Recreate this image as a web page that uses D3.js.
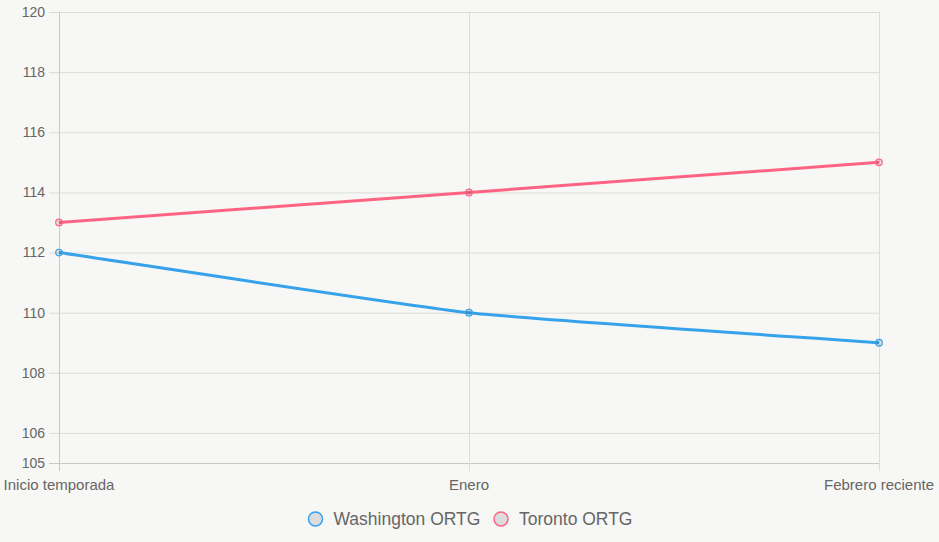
<!DOCTYPE html>
<html><head><meta charset="utf-8">
<script src="https://cdn.jsdelivr.net/npm/d3@7/dist/d3.min.js"></script>
<style>
html,body{margin:0;padding:0;background:#f7f7f5;}
svg{display:block;font-family:"Liberation Sans",Arial,Helvetica,sans-serif;}
</style></head>
<body>
<svg id="c" width="939" height="542"></svg>
<script>
const categories = ["Inicio temporada", "Enero", "Febrero reciente"];
const washington = [112, 110, 109];
const toronto = [113, 114, 115];
const yTicks = [105, 106, 108, 110, 112, 114, 116, 118, 120];
const seriesNames = ["Washington ORTG", "Toronto ORTG"];
const seriesColors = ["#36a2eb", "#ff6384"];

(function () {
const svg = d3.select("#c");
const pL = 59, pR = 879, pT = 12, pB = 463;
const x = d3.scalePoint().domain(categories).range([pL, pR]);
const y = d3.scaleLinear().domain([105, 120]).range([pB, pT]);
const grid = "#dcdcda";

svg.append("g").selectAll("line").data(yTicks).join("line")
  .attr("x1", pL - 10).attr("x2", pR)
  .attr("y1", d => y(d) + 0.5).attr("y2", d => y(d) + 0.5)
  .attr("stroke", d => d === 105 ? "#c8c8c6" : grid).attr("stroke-width", 1);
svg.append("g").selectAll("line").data(categories).join("line")
  .attr("x1", d => x(d) + 0.5).attr("x2", d => x(d) + 0.5)
  .attr("y1", pT).attr("y2", pB + 8)
  .attr("stroke", (d, i) => i === 0 ? "#c8c8c6" : grid).attr("stroke-width", 1);

svg.append("g").selectAll("text").data(yTicks).join("text")
  .attr("x", pL - 14).attr("y", d => y(d)).attr("dy", "0.35em")
  .attr("text-anchor", "end").attr("font-size", 14).attr("fill", "#666")
  .text(d => d);
svg.append("g").selectAll("text").data(categories).join("text")
  .attr("x", d => x(d)).attr("y", pB + 27)
  .attr("text-anchor", "middle").attr("font-size", 15).attr("fill", "#666")
  .text(d => d);

function spline(pts, t) {
  let s = `M${pts[0][0]},${pts[0][1]}`;
  const cps = pts.map((p, i) => {
    const prev = pts[i - 1] || p, next = pts[i + 1] || p;
    const d01 = Math.hypot(p[0] - prev[0], p[1] - prev[1]);
    const d12 = Math.hypot(next[0] - p[0], next[1] - p[1]);
    let s01 = d01 / (d01 + d12), s12 = d12 / (d01 + d12);
    if (isNaN(s01)) s01 = 0; if (isNaN(s12)) s12 = 0;
    const fa = t * s01, fb = t * s12;
    return {
      px: p[0] - fa * (next[0] - prev[0]), py: p[1] - fa * (next[1] - prev[1]),
      nx: p[0] + fb * (next[0] - prev[0]), ny: p[1] + fb * (next[1] - prev[1])
    };
  });
  for (let i = 1; i < pts.length; i++) {
    s += `C${cps[i-1].nx},${cps[i-1].ny},${cps[i].px},${cps[i].py},${pts[i][0]},${pts[i][1]}`;
  }
  return s;
}

[washington, toronto].forEach((vals, si) => {
  const pts = vals.map((v, i) => [x(categories[i]), y(v)]);
  svg.append("path").attr("d", spline(pts, 0.15))
    .attr("fill", "none").attr("stroke", seriesColors[si]).attr("stroke-width", 3);
  svg.append("g").selectAll("circle").data(vals).join("circle")
    .attr("cx", (d, i) => x(categories[i])).attr("cy", d => y(d)).attr("r", 3.3)
    .attr("fill", "rgba(0,0,0,0.1)").attr("stroke", seriesColors[si]).attr("stroke-width", 1.2);
});

const lg = svg.append("g");
const legendX = [315.5, 501];
seriesNames.forEach((n, i) => {
  lg.append("circle").attr("cx", legendX[i]).attr("cy", 519).attr("r", 7)
    .attr("fill", "#dcdcdc").attr("stroke", seriesColors[i]).attr("stroke-width", 1.5);
  lg.append("text").attr("x", legendX[i] + 18).attr("y", 525)
    .attr("font-size", 17.5).attr("fill", "#666").text(n);
});
})();
</script>
</body></html>
